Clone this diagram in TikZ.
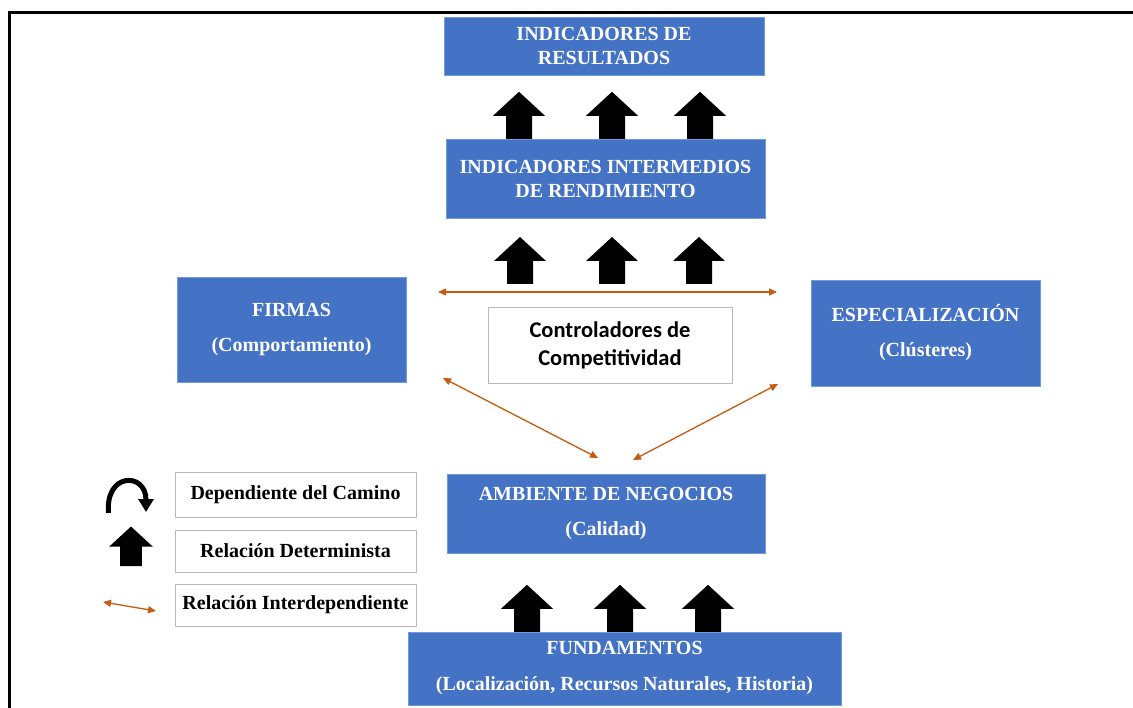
\documentclass[tikz,border=0pt]{standalone}
\usepackage{fontspec}
\setmainfont{Liberation Serif}
\newfontfamily\calibri{Carlito}
\usetikzlibrary{arrows.meta}
\definecolor{boxblue}{RGB}{68,114,196}
\definecolor{edgeblue}{RGB}{110,155,220}
\definecolor{naranja}{RGB}{197,90,17}
\definecolor{grisborde}{RGB}{185,185,185}

\begin{document}
\begin{tikzpicture}[x=1pt,y=-1pt,
    bloque/.style={draw=edgeblue,fill=boxblue,text=white,align=center,inner sep=0pt,
        font=\bfseries\fontsize{20}{24}\selectfont},
    leyenda/.style={draw=grisborde,fill=white,inner sep=0pt,minimum width=241pt,
        font=\bfseries\fontsize{20}{24}\selectfont},
    interd/.style={naranja,line width=1.3pt,{Triangle[length=8pt,width=7pt]}-{Triangle[length=8pt,width=7pt]}},
    flecha/.pic={\fill (-13,0) -- (-13,-23) -- (-26,-23) -- (0,-47) -- (26,-23) -- (13,-23) -- (13,0) -- cycle;}]
    \useasboundingbox (0,0) rectangle (1133,708);
    \draw[line width=3pt] (9.5,708) -- (9.5,13) -- (1133,13);

    % bloques
    \node[bloque,minimum width=320pt,minimum height=58pt] (res) at (604,46) {INDICADORES DE\\RESULTADOS};
    \node[bloque,minimum width=319pt,minimum height=79pt] (inter) at (605.5,178.5) {INDICADORES INTERMEDIOS\\DE RENDIMIENTO};
    \node[bloque,minimum width=229pt,minimum height=105pt] (firmas) at (291.5,329.5) {FIRMAS\\[11pt](Comportamiento)};
    \node[bloque,minimum width=229pt,minimum height=106pt] (espec) at (925.5,333) {ESPECIALIZACIÓN\\[11pt](Clústeres)};
    \node[draw=grisborde,fill=white,align=center,inner sep=0pt,minimum width=244pt,minimum height=76pt,
        font=\calibri\bfseries\fontsize{22.5}{28}\selectfont] (ctrl) at (610,345) {Controladores de\\Competitividad};
    \node[bloque,minimum width=318pt,minimum height=79pt] (amb) at (606,513.5) {AMBIENTE DE NEGOCIOS\\[11pt](Calidad)};
    \node[bloque,minimum width=433pt,minimum height=73pt] (fund) at (624.5,668.5) {FUNDAMENTOS\\[12pt](Localización, Recursos Naturales, Historia)};

    % flechas deterministas
    \foreach \x in {519,612,700} \pic at (\x,0 |- inter.north) {flecha};
    \foreach \x in {520,612,699} \pic at (\x,284) {flecha};
    \foreach \x in {527,620,708} \pic at (\x,0 |- fund.north) {flecha};

    % relaciones interdependientes
    \coordinate (h1) at (438,292);
    \coordinate (h2) at (777,292);
    \coordinate (d1) at (443,378);
    \coordinate (d2) at (598,458);
    \coordinate (d3) at (778,384);
    \coordinate (d4) at (633,460);
    \draw[interd] (h1) -- (h2);
    \draw[interd] (d1) -- (d2);
    \draw[interd] (d3) -- (d4);

    % leyenda
    \node[leyenda,minimum height=45pt] (cam) at (295.5,494.5) {Dependiente del Camino};
    \node[leyenda,minimum height=42pt] (det) at (295.5,551) {Relación Determinista};
    \node[leyenda,minimum height=42pt] (int) at (295.5,605) {Relación Interdependiente};
    \draw[line width=5pt,-{Triangle[length=13pt,width=15pt]}] (108.5,513) .. controls (105,472) and (146,472) .. (146,512);
    \pic[scale=0.84] at (131,566) {flecha};
    \coordinate (l1) at (103,602);
    \coordinate (l2) at (156,611);
    \draw[interd] (l1) -- (l2);
\end{tikzpicture}
\end{document}
